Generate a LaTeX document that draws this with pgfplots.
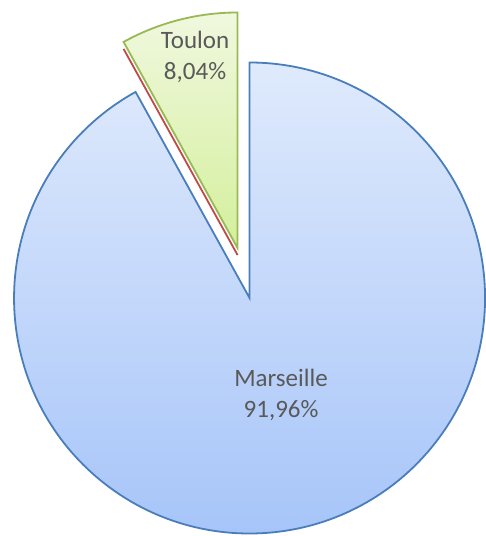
\documentclass[border=0pt]{standalone}
\usepackage{pgfplots}
\pgfplotsset{compat=1.18}
\usepackage{pgfplotstable}
\usepackage{fontspec}
\setmainfont{Carlito}
\definecolor{mTop}{HTML}{DFEAFC}
\definecolor{mBot}{HTML}{A7C5F9}
\definecolor{mLine}{HTML}{4A7EBB}
\definecolor{tTop}{HTML}{F0F8DE}
\definecolor{tBot}{HTML}{D4EF9C}
\definecolor{tLine}{HTML}{98B954}
\definecolor{rLine}{HTML}{BE4B48}
\definecolor{txt}{HTML}{595959}

% value in %, explode offsets in px (dx right, dy up)
\pgfplotstableread{
name      value  dx   dy
Marseille 91.96  0    0
Autre     0.00   -12  43
Toulon    8.04   -12  50
}\piedata

\pgfplotstablegetelem{0}{value}\of\piedata \let\vA\pgfplotsretval
\pgfplotstablegetelem{1}{value}\of\piedata \let\vB\pgfplotsretval
\pgfplotstablegetelem{2}{value}\of\piedata \let\vC\pgfplotsretval
\pgfplotstablegetelem{1}{dx}\of\piedata \let\dxB\pgfplotsretval
\pgfplotstablegetelem{1}{dy}\of\piedata \let\dyB\pgfplotsretval
\pgfplotstablegetelem{2}{dx}\of\piedata \let\dxC\pgfplotsretval
\pgfplotstablegetelem{2}{dy}\of\piedata \let\dyC\pgfplotsretval

\pgfmathsetmacro\aA{90}
\pgfmathsetmacro\aB{\aA-3.6*\vA}
\pgfmathsetmacro\aC{\aB-3.6*\vB}
\pgfmathsetmacro\aD{\aC-3.6*\vC}
\def\cx{249.5}
\def\cy{238}
\def\R{117.75pt}
\pgfmathsetmacro\bx{\cx+\dxB}
\pgfmathsetmacro\by{\cy+\dyB}
\pgfmathsetmacro\tx{\cx+\dxC}
\pgfmathsetmacro\ty{\cy+\dyC}

\begin{document}
\begin{tikzpicture}
\begin{axis}[
  width=242.5pt, height=268pt, scale only axis,
  xmin=0, xmax=485, ymin=0, ymax=536,
  hide axis, clip=false,
]
\addplot[draw=none] coordinates {(0,0) (485,536)};
% Marseille
\filldraw[draw=mLine, line width=0.9pt, top color=mTop, bottom color=mBot, line join=miter]
  (axis cs:\cx,\cy) -- ++(\aA:\R) arc[start angle=\aA, end angle=\aB, radius=\R] -- cycle;
% tiny slice
\filldraw[draw=rLine, fill=rLine, line width=0.9pt]
  (axis cs:\bx,\by) -- ++(\aB:\R) arc[start angle=\aB, end angle=\aC, radius=\R] -- cycle;
% Toulon
\filldraw[draw=tLine, line width=0.9pt, top color=tTop, bottom color=tBot, line join=miter]
  (axis cs:\tx,\ty) -- ++(\aC:\R) arc[start angle=\aC, end angle=\aD, radius=\R] -- cycle;
% labels
\node[align=center, text=txt, font=\fontsize{12.5}{15.5}\selectfont] at (axis cs:281,141) {Marseille\\91,96\%};
\node[align=center, text=txt, font=\fontsize{12.5}{15.5}\selectfont] at (axis cs:195,479) {Toulon\\8,04\%};
\end{axis}
\pgfresetboundingbox
\path (current axis.south west) rectangle (current axis.north east);
\end{tikzpicture}
\end{document}
